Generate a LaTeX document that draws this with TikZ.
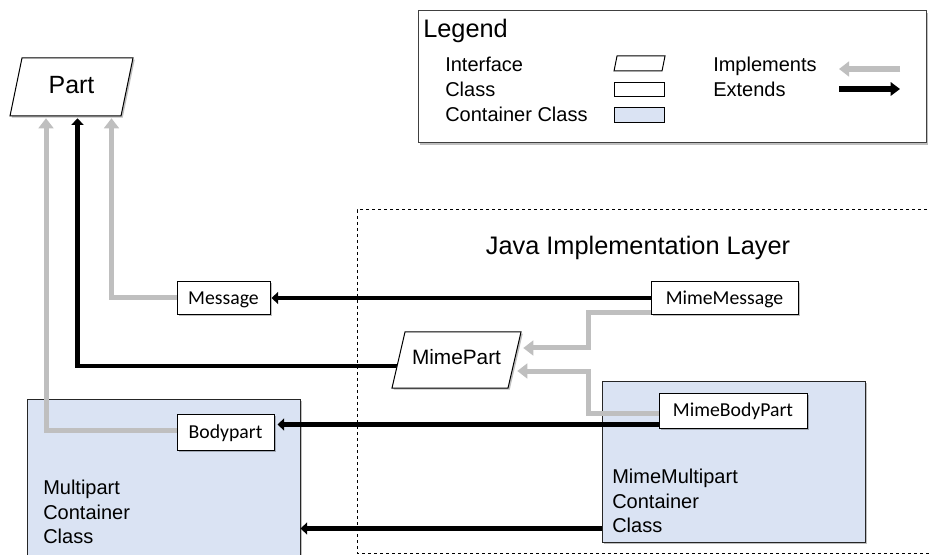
\documentclass[tikz,border=0pt]{standalone}
\usepackage{fontspec}
\setmainfont{Liberation Sans}
\newfontfamily\carlito{Carlito}
\usetikzlibrary{arrows.meta,calc,shadows}
\definecolor{boxblue}{HTML}{DAE3F3}
\definecolor{implgray}{HTML}{BFBFBF}
\pgfdeclarelayer{bg}
\pgfdeclarelayer{conn}
\pgfsetlayers{bg,conn,main}
\begin{document}
\begin{tikzpicture}[x=0.75pt,y=-0.75pt,
  shad/.style={drop shadow={shadow xshift=1.3pt,shadow yshift=-1.3pt,opacity=0.25,fill=black}},
  classbox/.style={draw=black,line width=0.75pt,fill=white,inner sep=0pt,
    font=\carlito\fontsize{14.8}{17}\selectfont,text height=9.5pt,text depth=0pt,shad},
  container/.style={draw=black!85,line width=0.75pt,fill=boxblue,inner sep=0pt,shad},
  ifaceshape/.style={draw=black,line width=0.75pt,fill=white,shad},
  impl/.style={draw=implgray,line width=3.75pt,-{Triangle[length=7.5pt,width=11pt]}},
  ext/.style={draw=black,line width=3.4pt,-{Triangle[length=5pt,width=9pt]}},
  ctext/.style={font=\fontsize{15}{18.2}\selectfont,align=left,inner sep=0pt,anchor=north west},
  lt/.style={font=\fontsize{15}{18}\selectfont,inner sep=0pt,anchor=base west},
]
\useasboundingbox (0,0) rectangle (930,555);

% Java implementation layer frame
\draw[line width=0.75pt,dash pattern=on 2.5pt off 2pt] (945,210) -- (357,210) -- (357,553) -- (945,553);
\node[font=\fontsize{19}{22}\selectfont,anchor=base,inner sep=0pt] (title) at (638,255) {Java Implementation Layer};

% Legend
\node[draw=black!75,line width=0.75pt,fill=white,minimum width=381pt,minimum height=99pt,inner sep=0pt,shad] (legend) at (672,77) {};
\node[font=\fontsize{19}{22}\selectfont,inner sep=0pt,anchor=base west] (legtitle) at (423,38) {Legend};
\node[lt] (lgIface) at (445,72) {Interface};
\node[lt] (lgClass) at (445,97) {Class};
\node[lt] (lgCont) at (445,122) {Container Class};
\node[lt] (lgImpl) at (713,72) {Implements};
\node[lt] (lgExt) at (713,97) {Extends};
\coordinate (icI) at (639.5,63.5);
\draw[line width=0.75pt,fill=white] ($(icI)+(-22.5,-7.5)$) -- ($(icI)+(25.5,-7.5)$) -- ($(icI)+(22.5,7.5)$) -- ($(icI)+(-25.5,7.5)$) -- cycle;
\node[draw=black,line width=0.75pt,fill=white,minimum width=37.5pt,minimum height=10.5pt,inner sep=0pt] (icC) at (639,90) {};
\node[draw=black,line width=0.75pt,fill=boxblue,minimum width=37.5pt,minimum height=11.25pt,inner sep=0pt] (icK) at (639,115.5) {};
\coordinate (liA) at (900,69);
\coordinate (liB) at (839,69);
\coordinate (leA) at (839,89);
\coordinate (leB) at (900,89);
\draw[impl,line width=4.5pt] (liA) -- (liB);
\draw[ext,line width=4.8pt,-{Triangle[length=7pt,width=10pt]}] (leA) -- (leB);

% Containers
\begin{pgfonlayer}{bg}
\node[container,minimum width=204.75pt,minimum height=132pt] (Multipart) at (163.5,487) {};
\node[container,minimum width=197.25pt,minimum height=120.75pt] (MimeMultipart) at (733.5,461.5) {};
\end{pgfonlayer}
\node[ctext] (mptext) at (43,480) {Multipart\\Container\\Class};
\node[ctext] (mmptext) at (612,469) {MimeMultipart\\Container\\Class};

% Interfaces
\coordinate (Pc) at (71.5,87);
\draw[ifaceshape] ($(Pc)+(-49.5,-29)$) -- ($(Pc)+(61.5,-29)$) -- ($(Pc)+(49.5,29)$) -- ($(Pc)+(-61.5,29)$) -- cycle;
\node[inner sep=0pt,minimum width=92.25pt,minimum height=43.5pt,font=\fontsize{18.7}{22}\selectfont,text height=10.5pt,text depth=0pt] (Part) at (Pc) {Part};

\coordinate (MPc) at (456.5,360);
\draw[ifaceshape] ($(MPc)+(-51.5,-28)$) -- ($(MPc)+(64.5,-28)$) -- ($(MPc)+(51.5,28)$) -- ($(MPc)+(-64.5,28)$) -- cycle;
\node[inner sep=0pt,minimum width=96.75pt,minimum height=42pt,font=\fontsize{15.6}{18}\selectfont,text height=6pt,text depth=0pt] (MimePart) at (MPc) {MimePart};

% Classes
\node[classbox,minimum width=69.75pt,minimum height=24.75pt] (Message) at (223.5,298) {Message};
\node[classbox,minimum width=110.25pt,minimum height=24.75pt] (MimeMessage) at (724.5,298) {MimeMessage};
\node[classbox,minimum width=72.75pt,minimum height=27pt] (Bodypart) at (225.5,432) {Bodypart};
\node[classbox,minimum width=111pt,minimum height=26.25pt] (MimeBodyPart) at (733,410.5) {MimeBodyPart};

% Connectors
\coordinate (mbp) at ($(MimeBodyPart.south west)+(0,-4)$);
\coordinate (mmp) at ($(MimeMultipart.south west)+(0,-14)$);
\begin{pgfonlayer}{conn}
\draw[impl] ($(Bodypart.west)+(0,-2)$) -| ($(Part.south)+(-25.5,2)$);
\draw[ext] ($(MimePart.west)+(5,6)$) -| ($(Part.south)+(6,2)$);
\draw[impl] (Message.west) -| ($(Part.south)+(40,2)$);
\draw[ext] (MimeMessage.west) -- ($(Message.east)+(1,0)$);
\draw[impl] ($(MimeMessage.south west)+(0,-2)$) -| ($(MimePart.east)+(67,-12)$) -- ($(MimePart.east)+(2,-12)$);
\draw[impl] ($(MimeBodyPart.west)+(0,2.5)$) -| ($(MimePart.east)+(67,11)$) -- ($(MimePart.east)+(-4,11)$);
\draw[ext] (mbp) -- ($(mbp -| Bodypart.east)+(3,0)$);
\draw[ext] (mmp) -- (mmp -| Multipart.east);
\end{pgfonlayer}
\end{tikzpicture}
\end{document}
